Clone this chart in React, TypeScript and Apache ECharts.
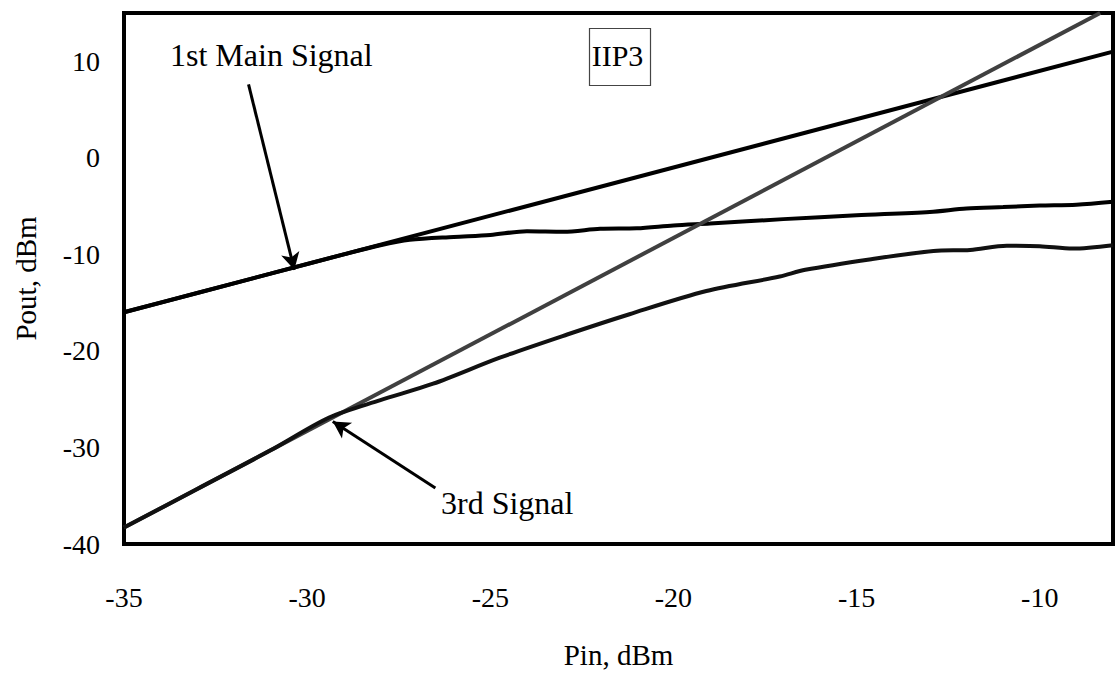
import React, { useEffect, useRef } from 'react';
import * as echarts from 'echarts';

// Pin (dBm), Pout (dBm)
const fundLinear: number[][] = [[-35, -16], [-8, 11]];
const fundMeasured: number[][] = [
  [-35, -16], [-33, -14], [-31, -12], [-29, -10], [-28, -9.05], [-27.2, -8.5],
  [-26, -8.2], [-25, -8.0], [-24, -7.6], [-23, -7.65], [-22, -7.35], [-21, -7.3],
  [-20, -7.0], [-19, -6.8], [-17, -6.35], [-15, -5.95], [-13, -5.6], [-12, -5.25],
  [-11, -5.1], [-10, -4.95], [-9, -4.85], [-8, -4.55],
];
const thirdLinear: number[][] = [[-35, -38.3], [-8.35, 15]];
const thirdMeasured: number[][] = [
  [-35, -38.3], [-33, -34.3], [-31, -30.3], [-29.4, -26.9], [-28, -25.1],
  [-26.56, -23.4], [-24.74, -20.7], [-22.9, -18.3], [-21.2, -16.2], [-19.1, -13.8],
  [-17.1, -12.3], [-16.4, -11.6], [-14.6, -10.5], [-12.9, -9.65], [-11.9, -9.54],
  [-10.9, -9.1], [-10, -9.15], [-9.1, -9.4], [-8, -9.05],
];

const xRange = [-35, -8];
const yRange = [-40, 15];
const mainArrow: number[][] = [[-31.6, 7.6], [-30.35, -11.6]];
const thirdArrow: number[][] = [[-26.5, -34.2], [-29.3, -27.3]];

const FONT = 'Liberation Serif';

export default function App() {
  const ref = useRef<HTMLDivElement>(null);
  useEffect(() => {
    if (!ref.current) return;
    const chart = echarts.init(ref.current, null, { renderer: 'svg' });
    const arrowLine = (pts: number[][]) => [
      { coord: pts[0], symbol: 'none' },
      { coord: pts[1], symbol: 'arrow' },
    ];
    chart.setOption({
      animation: false,
      textStyle: { fontFamily: FONT },
      grid: {
        left: 124, right: 3, top: 13, bottom: 126,
        show: true, borderColor: '#000', borderWidth: 4, backgroundColor: 'transparent',
      },
      xAxis: {
        type: 'value', min: xRange[0], max: xRange[1], interval: 5,
        name: 'Pin, dBm', nameLocation: 'middle', nameGap: 96,
        nameTextStyle: { fontFamily: FONT, fontSize: 29, color: '#000' },
        axisLine: { show: false }, axisTick: { show: false }, splitLine: { show: false },
        axisLabel: { fontFamily: FONT, fontSize: 28, color: '#000', margin: 39, showMaxLabel: false },
      },
      yAxis: {
        type: 'value', min: yRange[0], max: yRange[1], interval: 10,
        name: 'Pout, dBm', nameLocation: 'middle', nameGap: 84,
        nameTextStyle: { fontFamily: FONT, fontSize: 29, color: '#000' },
        axisLine: { show: false }, axisTick: { show: false }, splitLine: { show: false },
        axisLabel: { fontFamily: FONT, fontSize: 28, color: '#000', margin: 24, showMaxLabel: false },
      },
      series: [
        {
          type: 'line', data: fundLinear, showSymbol: false, silent: true,
          lineStyle: { color: '#000', width: 4 },
          markLine: {
            silent: true, symbolSize: [14, 17], label: { show: false },
            lineStyle: { color: '#000', width: 3, type: 'solid' },
            data: [arrowLine(mainArrow), arrowLine(thirdArrow)],
          },
        },
        {
          type: 'line', data: fundMeasured, showSymbol: false, silent: true, smooth: 0.3,
          lineStyle: { color: '#000', width: 4 },
        },
        {
          type: 'line', data: thirdLinear, showSymbol: false, silent: true,
          lineStyle: { color: '#404040', width: 4 },
        },
        {
          type: 'line', data: thirdMeasured, showSymbol: false, silent: true, smooth: 0.3,
          lineStyle: { color: '#111', width: 4 },
        },
      ],
      graphic: [
        {
          type: 'text', left: 170, top: 39,
          style: { text: '1st Main Signal', fontSize: 32, fontFamily: FONT, fill: '#000' },
        },
        {
          type: 'text', left: 441, top: 487,
          style: { text: '3rd Signal', fontSize: 32, fontFamily: FONT, fill: '#000' },
        },
        {
          type: 'rect', left: 587, top: 26,
          shape: { width: 61, height: 57 },
          style: { fill: 'none', stroke: '#444', lineWidth: 1.2 },
        },
        {
          type: 'text', x: 617.5, y: 55,
          style: {
            text: 'IIP3', fontSize: 30, fontFamily: FONT, fill: '#000',
            align: 'center', verticalAlign: 'middle',
          },
        },
      ],
    });
    return () => chart.dispose();
  }, []);
  return (
    <div
      ref={ref}
      style={{ position: 'absolute', left: 0, top: 0, width: 1116, height: 674, background: '#fff' }}
    />
  );
}
